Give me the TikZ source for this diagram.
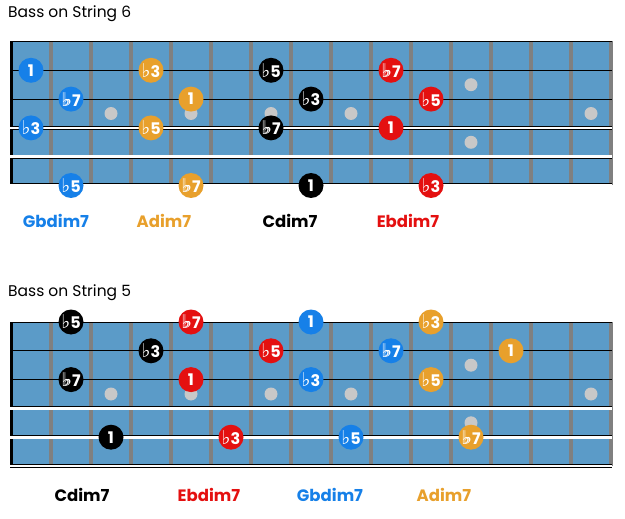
\documentclass[tikz,border=0pt]{standalone}
\usepackage{fontspec}
\setmainfont{Poppins}
\newfontfamily\symfont{DejaVu Sans}
\definecolor{boardblue}{RGB}{91,155,200}
\definecolor{fretgray}{RGB}{128,128,128}
\definecolor{dotgray}{RGB}{200,200,200}
\definecolor{myblue}{RGB}{22,128,232}
\definecolor{myorange}{RGB}{232,160,44}
\definecolor{myred}{RGB}{228,16,16}
\newcommand\fl{{\symfont\bfseries\fontsize{19}{19}\selectfont\char"266D}}
\newcommand\dfl{{\symfont\bfseries\fontsize{19}{19}\selectfont\char"266D\kern-.38em\char"266D}}

\begin{document}
\begin{tikzpicture}[x=1pt,y=-1pt]
\useasboundingbox (0,0) rectangle (625,519);
\tikzset{title/.style={anchor=west,inner sep=0,font=\fontsize{15.5}{18}\selectfont}}
\tikzset{chord/.style={inner sep=0,font=\bfseries\fontsize{16.5}{20}\selectfont}}
\tikzset{inlay/.style={circle,fill=dotgray,minimum size=13pt,inner sep=0}}
\tikzset{NoteStyle/.style={circle,minimum size=25pt,inner sep=0,text=white,font=\bfseries\fontsize{16}{16}\selectfont}}
\node[title] (t6) at (8,14) {Bass on String 6};
\node[title] (t5) at (8,293) {Bass on String 5};
% the two boards
\foreach \b in {41.5,322}{
  \fill[boardblue] (10,\b) rectangle (612,\b+144);
  \foreach \x in {51,91,...,611}
    \draw[fretgray,line width=4pt] (\x,\b) -- (\x,\b+144);
  \foreach \x in {111,191,271,351,591}
    \node[inlay] at (\x,\b+72) {};
  \node[inlay] at (471,\b+43.2) {};
  \node[inlay] at (471,\b+100.8) {};
  \draw[line width=3pt] (11.5,\b) -- (11.5,\b+144);
  \foreach \s in {0,1,2}
    \draw[line width=.8pt] (10,\b+28.8*\s) -- (612,\b+28.8*\s);
  \foreach \s in {3,4,5}{
    \draw[line width=4pt] (10,\b+28.8*\s) -- (612,\b+28.8*\s);
    \draw[white,line width=2.7pt] (10,\b+28.8*\s) -- (612,\b+28.8*\s);
  }
}
% bass on string 6
\tikzset{NoteStyle/.append style={fill=myblue}}
\node[NoteStyle] (ga1) at (31,70.3) {1};
\node[NoteStyle] (ga7) at (71,99.1) {\dfl7};
\node[NoteStyle] (ga3) at (31,127.9) {\fl3};
\node[NoteStyle] (ga5) at (71,185.5) {\fl5};
\tikzset{NoteStyle/.append style={fill=myorange}}
\node[NoteStyle] (aa3) at (151,70.3) {\fl3};
\node[NoteStyle] (aa1) at (191,99.1) {1};
\node[NoteStyle] (aa5) at (151,127.9) {\fl5};
\node[NoteStyle] (aa7) at (191,185.5) {\dfl7};
\tikzset{NoteStyle/.append style={fill=black}}
\node[NoteStyle] (ca5) at (271,70.3) {\fl5};
\node[NoteStyle] (ca3) at (311,99.1) {\fl3};
\node[NoteStyle] (ca7) at (271,127.9) {\dfl7};
\node[NoteStyle] (ca1) at (311,185.5) {1};
\tikzset{NoteStyle/.append style={fill=myred}}
\node[NoteStyle] (ea7) at (391,70.3) {\dfl7};
\node[NoteStyle] (ea5) at (431,99.1) {\fl5};
\node[NoteStyle] (ea1) at (391,127.9) {1};
\node[NoteStyle] (ea3) at (431,185.5) {\fl3};
\node[chord,text=myblue] (gan) at (56,221) {Gbdim7};
\node[chord,text=myorange] (aan) at (164,221) {Adim7};
\node[chord,text=black] (can) at (290,221) {Cdim7};
\node[chord,text=myred] (ean) at (408,221) {Ebdim7};
% bass on string 5
\tikzset{NoteStyle/.append style={fill=black}}
\node[NoteStyle] (cb5) at (71,322) {\fl5};
\node[NoteStyle] (cb3) at (151,350.8) {\fl3};
\node[NoteStyle] (cb7) at (71,379.6) {\dfl7};
\node[NoteStyle] (cb1) at (111,437.2) {1};
\tikzset{NoteStyle/.append style={fill=myred}}
\node[NoteStyle] (eb7) at (191,322) {\dfl7};
\node[NoteStyle] (eb5) at (271,350.8) {\fl5};
\node[NoteStyle] (eb1) at (191,379.6) {1};
\node[NoteStyle] (eb3) at (231,437.2) {\fl3};
\tikzset{NoteStyle/.append style={fill=myblue}}
\node[NoteStyle] (gb1) at (311,322) {1};
\node[NoteStyle] (gb7) at (391,350.8) {\dfl7};
\node[NoteStyle] (gb3) at (311,379.6) {\fl3};
\node[NoteStyle] (gb5) at (351,437.2) {\fl5};
\tikzset{NoteStyle/.append style={fill=myorange}}
\node[NoteStyle] (ab3) at (431,322) {\fl3};
\node[NoteStyle] (ab1) at (511,350.8) {1};
\node[NoteStyle] (ab5) at (431,379.6) {\fl5};
\node[NoteStyle] (ab7) at (471,437.2) {\dfl7};
\node[chord,text=black] (cbn) at (82,495) {Cdim7};
\node[chord,text=myred] (ebn) at (209,495) {Ebdim7};
\node[chord,text=myblue] (gbn) at (330,495) {Gbdim7};
\node[chord,text=myorange] (abn) at (444,495) {Adim7};
\end{tikzpicture}
\end{document}
